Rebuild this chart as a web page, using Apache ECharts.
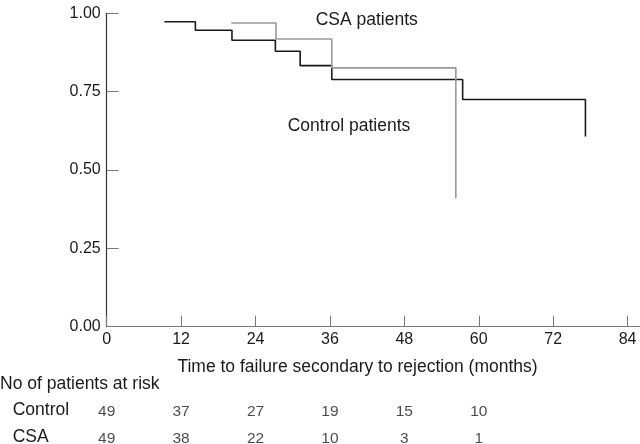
<!DOCTYPE html>
<html>
<head>
<meta charset="utf-8">
<script src="https://cdn.jsdelivr.net/npm/echarts@6/dist/echarts.min.js"></script>
<style>
html,body{margin:0;padding:0;background:#fff;}
#chart{width:640px;height:444px;}
</style>
</head>
<body>
<div id="chart"></div>
<script>
// Kaplan-Meier step data: [month, survival]
const controlCurve = [[9.3,0.973],[14.3,0.946],[20.2,0.914],[27.2,0.879],[31.2,0.833],[36.3,0.789],[57.4,0.725],[77.2,0.607]];
const csaCurve = [[20.1,0.969],[27.3,0.918],[36.3,0.826],[56.3,0.41]];
const riskMonths = [0,12,24,36,48,60];
const riskControl = [49,37,27,19,15,10];
const riskCSA = [49,38,22,10,3,1];
const yTicks = [0,0.25,0.5,0.75,1];

const FONT = '"Liberation Sans", Arial, Helvetica, sans-serif';
const chart = echarts.init(document.getElementById('chart'));

const riskData1 = riskMonths.map((m,i)=>[m, 1, riskControl[i]]);
const riskData2 = riskMonths.map((m,i)=>[m, 0, riskCSA[i]]);

chart.setOption({
  animation:false,
  backgroundColor:'#fff',
  textStyle:{fontFamily:FONT},
  grid:[
    {left:106.7, right:0, top:13.3, bottom:117.3},
    {left:106.7, right:0, top:411.5, height:26.8}
  ],
  xAxis:[{
    type:'value', min:0, max:86, interval:12, gridIndex:0,
    axisLine:{show:true, lineStyle:{color:'#777', width:1.2}},
    axisTick:{show:true, inside:true, length:11, lineStyle:{color:'#777', width:1}},
    axisLabel:{show:true, color:'#1a1a1a', fontSize:16, fontFamily:FONT, margin:5, showMaxLabel:false,
      formatter:v=> (v%12===0? String(v):'')},
    splitLine:{show:false}
  },{
    type:'value', min:0, max:86, gridIndex:1, show:false
  }],
  yAxis:[{
    type:'value', min:0, max:1, interval:0.25, gridIndex:0,
    axisLine:{show:true, lineStyle:{color:'#333', width:1.2}},
    axisTick:{show:true, inside:true, length:12, lineStyle:{color:'#777', width:1}},
    axisLabel:{show:true, color:'#1a1a1a', fontSize:16, fontFamily:FONT, margin:6, formatter:v=>v.toFixed(2)},
    splitLine:{show:false}
  },{
    type:'value', min:0, max:1, gridIndex:1, show:false
  }],
  series:[
    {type:'line', name:'Control', data:controlCurve, step:'end', symbol:'none',
      lineStyle:{color:'#1a1a1a', width:1.6}, xAxisIndex:0, yAxisIndex:0},
    {type:'line', name:'CSA', data:csaCurve, step:'end', symbol:'none',
      lineStyle:{color:'#999', width:1.6}, xAxisIndex:0, yAxisIndex:0},
    {type:'scatter', data:riskData1, xAxisIndex:1, yAxisIndex:1, symbolSize:0,
      label:{show:true, position:'inside', formatter:p=>String(p.value[2]), color:'#1a1a1a', fontSize:15.5, fontFamily:FONT}},
    {type:'scatter', data:riskData2, xAxisIndex:1, yAxisIndex:1, symbolSize:0,
      label:{show:true, position:'inside', formatter:p=>String(p.value[2]), color:'#1a1a1a', fontSize:15.5, fontFamily:FONT}}
  ],
  graphic:[
    {type:'text', x:315.7, y:20, style:{text:'CSA patients', fontSize:17.5, fontFamily:FONT, fill:'#1a1a1a', align:'left', verticalAlign:'middle'}},
    {type:'text', x:287.7, y:126, style:{text:'Control patients', fontSize:17.5, fontFamily:FONT, fill:'#1a1a1a', align:'left', verticalAlign:'middle'}},
    {type:'text', x:357.5, y:366.7, style:{text:'Time to failure secondary to rejection (months)', fontSize:17.5, fontFamily:FONT, fill:'#1a1a1a', align:'center', verticalAlign:'middle'}},
    {type:'text', x:0, y:384, style:{text:'No of patients at risk', fontSize:17.5, fontFamily:FONT, fill:'#1a1a1a', align:'left', verticalAlign:'middle'}},
    {type:'text', x:12.7, y:410.5, style:{text:'Control', fontSize:17.5, fontFamily:FONT, fill:'#1a1a1a', align:'left', verticalAlign:'middle'}},
    {type:'text', x:12.7, y:437.3, style:{text:'CSA', fontSize:17.5, fontFamily:FONT, fill:'#1a1a1a', align:'left', verticalAlign:'middle'}}
  ]
});
</script>
</body>
</html>
